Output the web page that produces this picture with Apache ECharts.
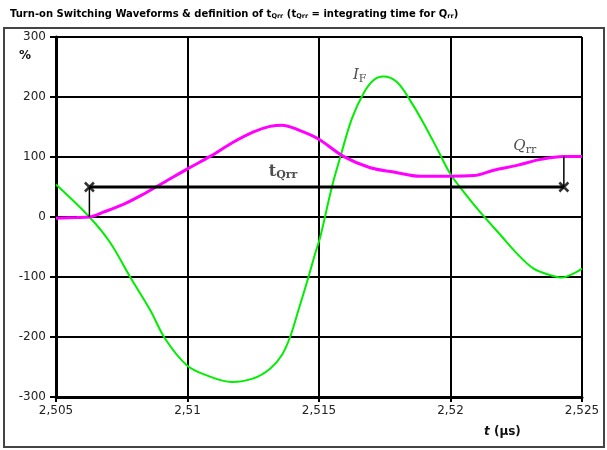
<!DOCTYPE html>
<html><head><meta charset="utf-8">
<script src="https://cdn.jsdelivr.net/npm/echarts@6/dist/echarts.min.js"></script>
<style>
html,body{margin:0;padding:0;background:#fff;}
#frame{position:absolute;left:3px;top:27px;width:598px;height:417px;border:2px solid #444;}
#c{position:absolute;left:0;top:0;width:607px;height:450px;}
</style></head><body>
<div id="frame"></div>
<div id="c"></div>
<script>
// ---- data (time in µs, value in %) ----
const ifTime = [2.505,2.50627,2.50705,2.50782,2.50858,2.50915,2.50997,2.51073,2.51168,2.51251,2.51314,2.51359,2.5139,2.51422,2.5146,2.51486,2.51505,2.51549,2.51581,2.51625,2.51669,2.51707,2.51745,2.51796,2.51847,2.51898,2.51949,2.51999,2.5205,2.52113,2.5219,2.52253,2.52316,2.5238,2.52424,2.52469,2.525];
const ifValue = [54,0,-42,-100,-155,-203,-247,-264,-275,-269,-253,-230,-200,-155,-100,-60,-33,50,100,164,206,228,234,225,194,156,114,72,42,8,-30,-61,-86,-97,-101,-94,-86];
const qrrTime = [2.505,2.50579,2.50627,2.5068,2.50756,2.50832,2.50908,2.51003,2.51086,2.51175,2.51251,2.51314,2.51359,2.51428,2.51498,2.51593,2.51695,2.51784,2.51885,2.51987,2.52088,2.52164,2.52253,2.52342,2.52431,2.525];
const qrrValue = [-2,-1,0,8,21,38,57,81,101,125,142,151,153,144,130,101,82,75,68,68,69,78,86,96,101,101];
const tqrrStart = 2.50627, tqrrEnd = 2.52431, tqrrLevel = 50;
const startBase = 0, endBase = 101;
const xTickLabels = ['2,505','2,51','2,515','2,52','2,525'];
const yTickLabels = ['-300','-200','-100','0','100','200','300'];
const labelIF = [2.5161, 236], labelQ = [2.5222, 118], labelT = [2.5129, 75];

const zip = (a,b)=>a.map((v,i)=>[v,b[i]]);
const chart = echarts.init(document.getElementById('c'), null, {renderer:'canvas'});
const font = 'DejaVu Sans, Verdana, sans-serif';
const serif = 'DejaVu Serif, Liberation Serif, serif';
const cross = 'path://M0,0 L10,10 M10,0 L0,10';
chart.setOption({
  animation:false,
  backgroundColor:'transparent',
  title:{
    left:5, top:4,
    text:'{b|Turn-on Switching Waveforms & definition of t}{s|Qrr}{b| (t}{s|Qrr}{b| = integrating time for Q}{s|rr}{b|)}',
    textStyle:{rich:{
      b:{fontFamily:font,fontWeight:'bold',fontSize:10,color:'#000'},
      s:{fontFamily:font,fontWeight:'bold',fontSize:6.5,color:'#000',verticalAlign:'bottom',padding:[4,0,0,0]}
    }}
  },
  grid:{left:56,right:25,top:37,bottom:53,containLabel:false},
  xAxis:{
    type:'value', min:2.505, max:2.525, interval:0.005,
    axisLine:{show:true,onZero:false,lineStyle:{color:'#000',width:3}},
    axisTick:{show:true,length:5,lineStyle:{color:'#000',width:2}},
    axisLabel:{margin:8,fontFamily:font,fontSize:12,color:'#222',
      formatter:v=>xTickLabels[Math.round((v-2.505)/0.005)]},
    splitLine:{show:true,lineStyle:{color:'#000',width:2}}
  },
  yAxis:{
    type:'value', min:-300, max:300, interval:100,
    axisLine:{show:true,onZero:false,lineStyle:{color:'#000',width:3}},
    axisTick:{show:true,length:6,lineStyle:{color:'#000',width:2}},
    axisLabel:{margin:10,fontFamily:font,fontSize:12,color:'#222',
      formatter:v=>yTickLabels[Math.round((v+300)/100)]},
    splitLine:{show:true,lineStyle:{color:'#000',width:2}}
  },
  graphic:[
    {type:'text',left:19,top:50,style:{text:'%',font:'bold 12px '+font,fill:'#111'}},
    {type:'text',left:484,top:426,style:{
      text:'{i|t}{n| (µs)}',
      rich:{i:{fontFamily:font,fontStyle:'italic',fontWeight:'bold',fontSize:12,fill:'#111'},
            n:{fontFamily:font,fontWeight:'bold',fontSize:12,fill:'#111'}}}}
  ],
  series:[
    {type:'line',name:'IF',data:zip(ifTime,ifValue),smooth:0.35,showSymbol:false,
     lineStyle:{color:'#00ee00',width:2},z:3},
    {type:'line',name:'Qrr',data:zip(qrrTime,qrrValue),smooth:0.35,showSymbol:false,
     lineStyle:{color:'#ff00ff',width:3},z:4},
    {type:'line',data:[[tqrrStart,tqrrLevel],[tqrrEnd,tqrrLevel]],showSymbol:false,
     lineStyle:{color:'#000',width:3},z:5},
    {type:'line',data:[[tqrrStart,startBase],[tqrrStart,tqrrLevel]],showSymbol:false,
     lineStyle:{color:'#000',width:1.5},z:5},
    {type:'line',data:[[tqrrEnd,endBase],[tqrrEnd,tqrrLevel]],showSymbol:false,
     lineStyle:{color:'#000',width:1.5},z:5},
    {type:'scatter',data:[[tqrrStart,tqrrLevel],[tqrrEnd,tqrrLevel]],symbol:cross,symbolSize:9,
     itemStyle:{color:'none',borderColor:'#000',borderWidth:2.5},z:6},
    {type:'scatter',symbolSize:0,z:7,silent:true,
     data:[
       {value:labelIF,label:{show:true,position:'right',formatter:'{i|I}{s|F}'}},
       {value:labelQ,label:{show:true,position:'right',formatter:'{i|Q}{s|rr}'}},
       {value:labelT,label:{show:true,position:'right',formatter:'{t|t}{q|Qrr}'}}
     ],
     label:{rich:{
       i:{fontFamily:serif,fontStyle:'italic',fontSize:15,color:'#222'},
       s:{fontFamily:serif,fontSize:11,color:'#222',padding:[8,0,0,0]},
       t:{fontFamily:serif,fontWeight:'bold',fontSize:16,color:'#222'},
       q:{fontFamily:serif,fontWeight:'bold',fontSize:11,color:'#222',padding:[7,0,0,0]}
     }}}
  ]
});
</script></body></html>
